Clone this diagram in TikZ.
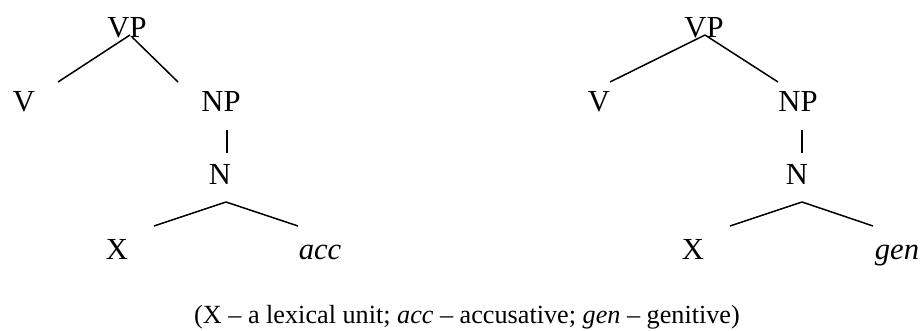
\documentclass[tikz,border=0pt]{standalone}
\usepackage{fontspec}
\setmainfont{Liberation Serif}
\usepackage{tikz}
\usetikzlibrary{positioning,calc}

\begin{document}
\begin{tikzpicture}[x=1pt, y=-1pt,
  lbl/.style  = {inner sep=0pt, anchor=base,
                 font=\fontsize{30.6}{36}\selectfont},
  note/.style = {inner sep=0pt, anchor=base,
                 font=\fontsize{26.2}{31}\selectfont},
  edge/.style = {line width=1.5pt}
]
\useasboundingbox (0,0) rectangle (922,331);

% , - Left tree (accusative) , -
\node[lbl] (vpA)  at (127,38)  {VP};
\node[lbl] (vA)   at (24,112)  {V};
\node[lbl] (npA)  at (221,112) {NP};
\node[lbl] (nA)   at (220,185) {N};
\node[lbl] (xA)   at (117,260) {X};
\node[lbl] (accA) at (320,260) {\itshape acc};

% , - Right tree (genitive) , -
\node[lbl] (vpB)  at (704,38)  {VP};
\node[lbl] (vB)   at (599,112) {V};
\node[lbl] (npB)  at (798,112) {NP};
\node[lbl] (nB)   at (797,185) {N};
\node[lbl] (xB)   at (693,260) {X};
\node[lbl] (genB) at (897,260) {\itshape gen};

% , - Branches , -
\draw[edge] ([xshift=3pt,yshift=3pt]vpA.base)   -- ([xshift=34pt,yshift=30pt]vA.base);
\draw[edge] ([xshift=5pt,yshift=1pt]vpA.base)   -- ([xshift=-43pt,yshift=30pt]npA.base);
\draw[edge] ([xshift=6pt,yshift=-18pt]npA.base) -- ([xshift=7pt,yshift=32pt]nA.base);
\draw[edge] ([xshift=6pt,yshift=-17pt]nA.base)  -- ([xshift=37pt,yshift=34pt]xA.base);
\draw[edge] ([xshift=6pt,yshift=-17pt]nA.base)  -- ([xshift=-22pt,yshift=34pt]accA.base);

\draw[edge] ([xshift=1pt,yshift=3pt]vpB.base)   -- ([xshift=11pt,yshift=30pt]vB.base);
\draw[edge] ([xshift=1pt,yshift=3pt]vpB.base)   -- ([xshift=-20pt,yshift=30pt]npB.base);
\draw[edge] ([xshift=4pt,yshift=-18pt]npB.base) -- ([xshift=5pt,yshift=32pt]nB.base);
\draw[edge] ([xshift=5pt,yshift=-17pt]nB.base)  -- ([xshift=37pt,yshift=34pt]xB.base);
\draw[edge] ([xshift=5pt,yshift=-17pt]nB.base)  -- ([xshift=-24pt,yshift=34pt]genB.base);

% , - Legend , -
\node[note] (legend) at (467,324)
  {(X -- a lexical unit; \textit{acc} -- accusative; \textit{gen} -- genitive)};

\end{tikzpicture}
\end{document}
